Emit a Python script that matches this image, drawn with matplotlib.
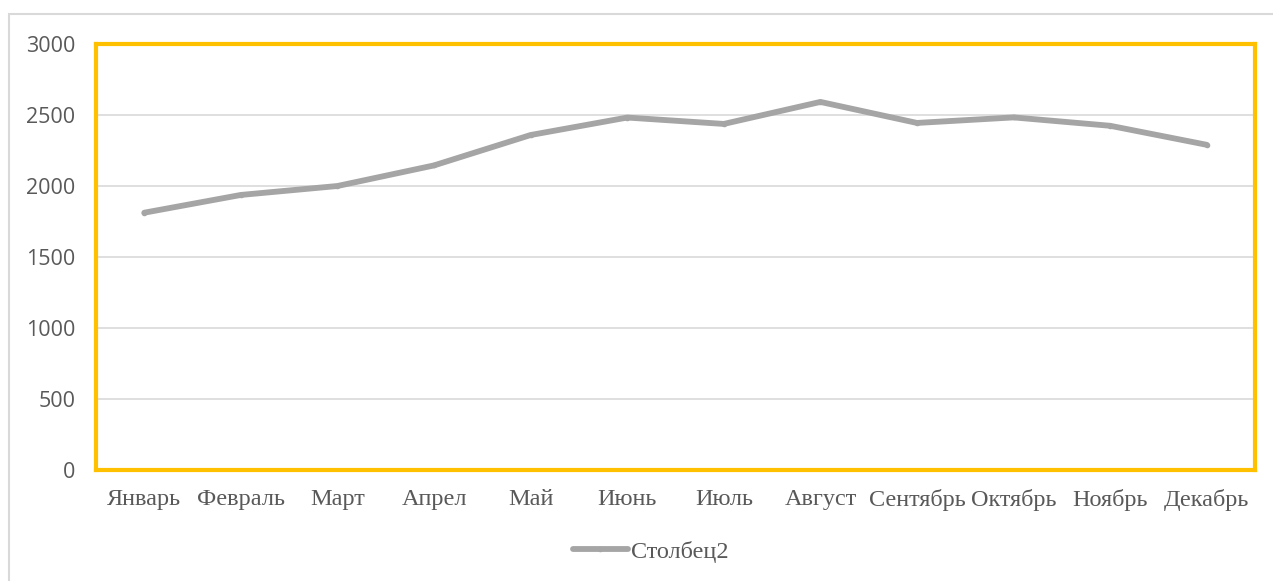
import matplotlib
matplotlib.use("Agg")
import matplotlib.pyplot as plt
from matplotlib.patches import Rectangle

# monthly values
months = ["Январь", "Февраль", "Март", "Апрел", "Май", "Июнь",
          "Июль", "Август", "Сентябрь", "Октябрь", "Ноябрь", "Декабрь"]
values = [1812, 1937, 2000, 2145, 2359, 2482, 2437, 2592, 2444, 2483, 2424, 2290]
series_name = "Столбец2"
y_ticks = [0, 500, 1000, 1500, 2000, 2500, 3000]

fig = plt.figure(figsize=(12.73, 5.81), dpi=100)
ax = fig.add_axes([0.0754, 0.191, 0.9105, 0.7333])

# outer chart-area border (runs off the right and bottom edges)
fig.patches.append(Rectangle((9 / 1273, -0.05), 1.2, (581 - 14) / 581 + 0.05,
                             transform=fig.transFigure, fill=False,
                             edgecolor="#d9d9d9", linewidth=1.5, zorder=0))

x = list(range(len(months)))
ax.plot(x, values, color="#a5a5a5", linewidth=4.2, marker="o", markersize=3,
        solid_capstyle="round", label=series_name, zorder=3)

ax.set_xlim(-0.5, len(months) - 0.5)
ax.set_ylim(0, 3000)
ax.set_yticks(y_ticks)
ax.set_yticklabels([str(v) for v in y_ticks], family="Open Sans",
                   fontsize=15.5, color="#595959")
ax.set_xticks(x)
ax.set_xticklabels(months, family="Liberation Serif", fontsize=17.5,
                   color="#595959")
ax.tick_params(axis="y", length=0, pad=15)
ax.tick_params(axis="x", length=0, pad=14)

ax.grid(axis="y", color="#d9d9d9", linewidth=1.2)
ax.set_axisbelow(True)
for s in ax.spines.values():
    s.set_color("#ffc000")
    s.set_linewidth(3)

fig.legend(loc="center", bbox_to_anchor=(0.511, 0.05), frameon=False,
           handlelength=2.3, handletextpad=0.1,
           prop={"family": "Liberation Serif", "size": 17.5},
           labelcolor="#595959")

fig.savefig("out.png", dpi=100)
